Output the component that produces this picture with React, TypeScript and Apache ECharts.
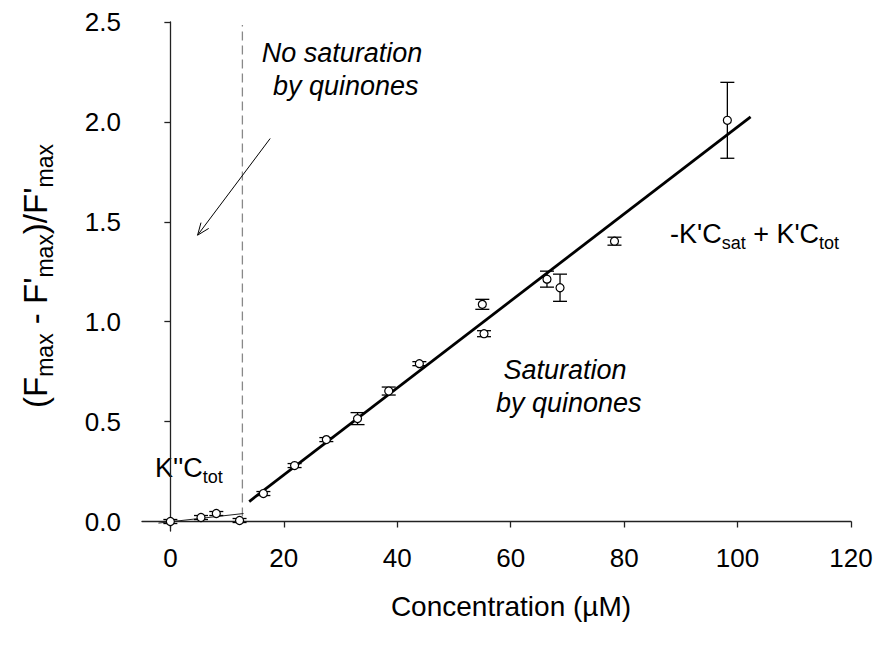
import React, { useEffect, useRef } from "react";
import * as echarts from "echarts";

const concentration = [0, 5.4, 8.1, 12.2, 16.4, 21.9, 27.5, 33.0, 38.5, 43.9, 55.0, 55.3, 66.4, 68.7, 78.3, 98.2];
const ratio = [0.0, 0.02, 0.04, 0.005, 0.14, 0.28, 0.41, 0.515, 0.653, 0.79, 1.087, 0.94, 1.213, 1.17, 1.403, 2.008];
const errors = [0.01, 0.01, 0.01, 0.01, 0.01, 0.01, 0.01, 0.03, 0.02, 0.01, 0.025, 0.015, 0.04, 0.068, 0.02, 0.19];
const xTicks = [0, 20, 40, 60, 80, 100, 120];
const yTicks = [0, 0.5, 1.0, 1.5, 2.0, 2.5];
const fitSaturation = [[13.9, 0.1], [102.3, 2.025]];
const fitLow = [[-2.1, -0.008], [12.9, 0.04]];
const boundary = [[12.7, 0.025], [12.7, 2.485]];
const arrow = [[17.6, 1.917, 4.8, 1.433]];

const FONT = "'Liberation Sans', Arial, Helvetica, sans-serif";

export default function App() {
  const ref = useRef<HTMLDivElement>(null);
  useEffect(() => {
    document.body.style.margin = "0";
    const chart = echarts.init(ref.current!, null, { renderer: "svg" });
    const main = { fontSize: 27, fontFamily: FONT, color: "#000", lineHeight: 36, verticalAlign: "middle" };
    const sub = { fontSize: 18, fontFamily: FONT, color: "#000", lineHeight: 18, verticalAlign: "bottom" };
    const mainY = { fontSize: 33, fontFamily: FONT, color: "#000", lineHeight: 42, verticalAlign: "middle" };
    const subY = { fontSize: 23, fontFamily: FONT, color: "#000", lineHeight: 21, verticalAlign: "bottom" };
    const italic = { fontSize: 27, fontFamily: FONT, fontStyle: "italic", fill: "#000", align: "center", lineHeight: 33 };
    chart.setOption({
      animation: false,
      grid: { left: 142, right: 28, top: 22, bottom: 115, containLabel: false },
      xAxis: {
        type: "value",
        min: -5,
        max: 120,
        axisLine: { show: true, lineStyle: { color: "#222", width: 1.3 } },
        axisTick: { show: true, length: 6, customValues: xTicks, lineStyle: { color: "#222", width: 1.3 } },
        axisLabel: { customValues: xTicks, fontSize: 26, fontFamily: FONT, color: "#000", margin: 14 },
        splitLine: { show: false },
      },
      yAxis: {
        type: "value",
        min: -0.0475,
        max: 2.5,
        axisLine: { show: true, lineStyle: { color: "#222", width: 1.3 } },
        axisTick: { show: true, length: 6, customValues: yTicks, lineStyle: { color: "#222", width: 1.3 } },
        axisLabel: {
          customValues: yTicks,
          fontSize: 26,
          fontFamily: FONT,
          color: "#000",
          margin: 21,
          formatter: (v: number) => v.toFixed(1),
        },
        splitLine: { show: false },
      },
      series: [
        {
          type: "line",
          data: boundary,
          symbol: "none",
          lineStyle: { color: "#888", width: 1.3, type: [9, 5] },
          z: 1,
        },
        {
          type: "line",
          data: fitLow,
          symbol: "none",
          lineStyle: { color: "#222", width: 1 },
          z: 2,
        },
        {
          type: "line",
          data: fitSaturation,
          symbol: "none",
          lineStyle: { color: "#000", width: 2.8 },
          z: 2,
        },
        {
          type: "custom",
          data: arrow,
          encode: { x: [0, 2], y: [1, 3] },
          renderItem: (params: any, api: any) => {
            const p0 = api.coord([api.value(0), api.value(1)]);
            const p1 = api.coord([api.value(2), api.value(3)]);
            const ang = Math.atan2(p1[1] - p0[1], p1[0] - p0[0]);
            const L = 13;
            const spread = 0.38;
            const a1 = [p1[0] - L * Math.cos(ang - spread), p1[1] - L * Math.sin(ang - spread)];
            const a2 = [p1[0] - L * Math.cos(ang + spread), p1[1] - L * Math.sin(ang + spread)];
            const st = { stroke: "#000", lineWidth: 1, fill: "none" };
            return {
              type: "group",
              children: [
                { type: "line", shape: { x1: p0[0], y1: p0[1], x2: p1[0], y2: p1[1] }, style: st },
                { type: "polyline", shape: { points: [a1, p1, a2] }, style: st },
              ],
            };
          },
          z: 3,
        },
        {
          type: "custom",
          data: concentration.map((c, i) => [c, ratio[i], errors[i]]),
          encode: { x: 0, y: 1 },
          renderItem: (params: any, api: any) => {
            const x = api.value(0);
            const y = api.value(1);
            const e = api.value(2);
            const top = api.coord([x, y + e]);
            const bot = api.coord([x, y - e]);
            const hw = 7;
            const st = { stroke: "#000", lineWidth: 1.3 };
            return {
              type: "group",
              children: [
                { type: "line", shape: { x1: top[0], y1: top[1], x2: bot[0], y2: bot[1] }, style: st },
                { type: "line", shape: { x1: top[0] - hw, y1: top[1], x2: top[0] + hw, y2: top[1] }, style: st },
                { type: "line", shape: { x1: bot[0] - hw, y1: bot[1], x2: bot[0] + hw, y2: bot[1] }, style: st },
              ],
            };
          },
          z: 4,
        },
        {
          type: "scatter",
          data: concentration.map((c, i) => [c, ratio[i]]),
          symbol: "circle",
          symbolSize: 8,
          itemStyle: { color: "#fff", borderColor: "#000", borderWidth: 1.2, opacity: 1 },
          z: 5,
        },
      ],
      graphic: [
        {
          type: "text",
          x: 35,
          y: 276,
          rotation: Math.PI / 2,
          style: {
            text: "{m|(F}{s|max}{m| - F'}{s|max}{m|)/F'}{s|max}",
            align: "center",
            verticalAlign: "middle",
            rich: { m: mainY, s: subY },
          },
        },
        {
          type: "text",
          x: 511,
          y: 606,
          style: {
            text: "Concentration (µM)",
            align: "center",
            verticalAlign: "middle",
            fontSize: 28,
            fontFamily: FONT,
            fill: "#000",
          },
        },
        {
          type: "text",
          x: 342,
          y: 69,
          style: { text: "No saturation\n by quinones", verticalAlign: "middle", ...italic },
        },
        {
          type: "text",
          x: 565,
          y: 386,
          style: { text: "Saturation\n by quinones", verticalAlign: "middle", ...italic },
        },
        {
          type: "text",
          x: 670,
          y: 234,
          style: {
            text: "{m|-K'C}{s|sat}{m| + K'C}{s|tot}",
            align: "left",
            verticalAlign: "middle",
            rich: { m: main, s: sub },
          },
        },
        {
          type: "text",
          x: 155,
          y: 468,
          style: {
            text: "{m|K''C}{s|tot}",
            align: "left",
            verticalAlign: "middle",
            rich: { m: main, s: sub },
          },
        },
      ],
    });
    return () => chart.dispose();
  }, []);
  return <div ref={ref} style={{ width: 879, height: 646 }} />;
}
